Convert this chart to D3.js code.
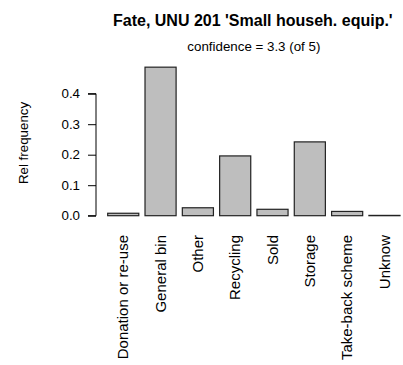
<!DOCTYPE html>
<html>
<head>
<meta charset="utf-8">
<script src="https://cdn.jsdelivr.net/npm/d3@7"></script>
<style>
  html, body { margin: 0; padding: 0; background: #fff; }
  text { font-family: "Liberation Sans", Arial, Helvetica, sans-serif; fill: #000; }
</style>
</head>
<body>
<svg id="chart" width="403" height="365"></svg>
<script>
const categories = ["Donation or re-use", "General bin", "Other", "Recycling", "Sold", "Storage", "Take-back scheme", "Unknow"];
const values = [0.008, 0.487, 0.026, 0.196, 0.021, 0.242, 0.014, 0.001];
const yTicks = [0.0, 0.1, 0.2, 0.3, 0.4];
const title = "Fate, UNU 201 'Small househ. equip.'";
const subtitle = "confidence = 3.3 (of 5)";
const yLabel = "Rel frequency";

const svg = d3.select("#chart");

// R barplot geometry: width 1, space 0.2
const barW = 1, space = 0.2;
const lefts = categories.map((c, i) => space + i * (barW + space));
const uMin = space, uMax = space + categories.length * (barW + space) - space;
const ext = (uMax - uMin) * 0.04;
const x = d3.scaleLinear().domain([uMin - ext, uMax + ext]).range([96, 411.7]);

const y = d3.scaleLinear().domain([0, 0.4]).range([215.7, 93.7]);

// bars
svg.append("g").selectAll("rect").data(values).join("rect")
  .attr("x", (d, i) => x(lefts[i]))
  .attr("width", (d, i) => x(lefts[i] + barW) - x(lefts[i]))
  .attr("y", d => y(d))
  .attr("height", d => y(0) - y(d))
  .attr("fill", "#bebebe")
  .attr("stroke", "#222")
  .attr("stroke-width", 1.2);

// y axis
const tick = 8;
const yAxis = d3.axisLeft(y).tickValues(yTicks).tickFormat(d3.format(".1f")).tickSize(tick).tickPadding(8);
const gy = svg.append("g").attr("transform", "translate(96,0)").call(yAxis);
gy.select(".domain").attr("d", `M-${tick},${y(0.4)}H0V${y(0)}H-${tick}`).attr("stroke", "#000");
gy.selectAll(".tick line").attr("stroke", "#000");
gy.selectAll(".tick text").attr("font-size", "13.33px")
  .style("font-family", '"Liberation Sans", Arial, sans-serif').attr("fill", "#000");

// x labels
svg.append("g").selectAll("text").data(categories).join("text")
  .attr("transform", (d, i) => `translate(${x(lefts[i] + barW / 2)},235) rotate(-90)`)
  .attr("text-anchor", "end")
  .attr("dy", "0.35em")
  .attr("font-size", "15px")
  .text(d => d);

// y label
svg.append("text")
  .attr("transform", `translate(28,143) rotate(-90)`)
  .attr("text-anchor", "middle")
  .attr("font-size", "13.33px")
  .text(yLabel);

// title
const cx = (x.range()[0] + x.range()[1]) / 2;
svg.append("text")
  .attr("x", cx - 1).attr("y", 26)
  .attr("text-anchor", "middle")
  .attr("font-size", "16px")
  .attr("font-weight", "bold")
  .text(title);
svg.append("text")
  .attr("x", cx).attr("y", 50.5)
  .attr("text-anchor", "middle")
  .attr("font-size", "13.33px")
  .text(subtitle);
</script>
</body>
</html>
